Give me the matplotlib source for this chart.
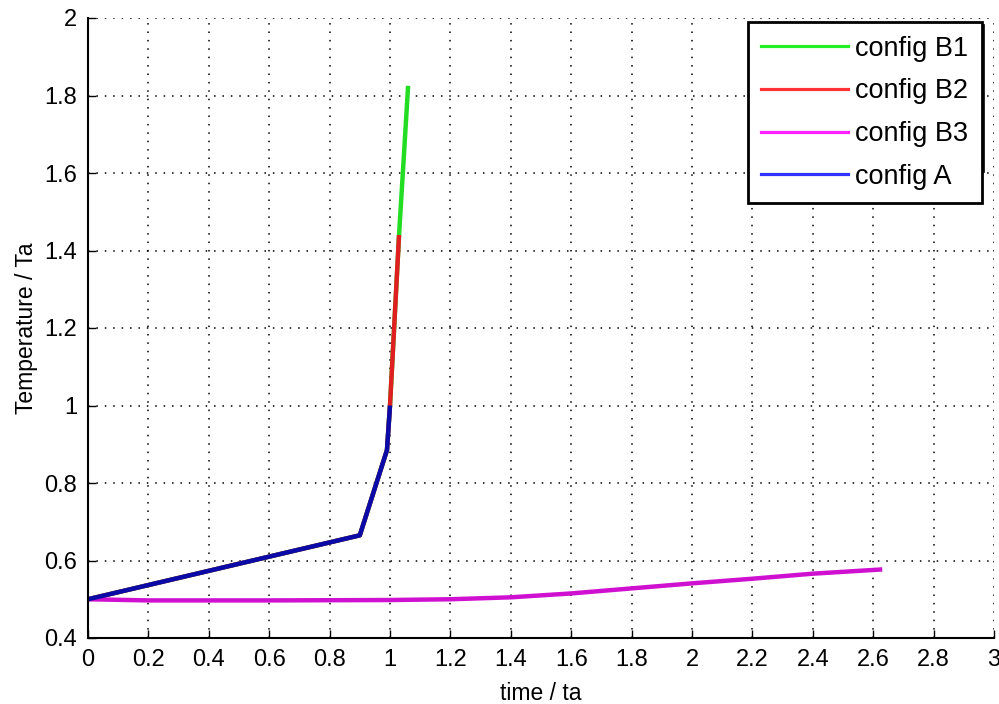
import matplotlib
matplotlib.use("Agg")
import matplotlib.pyplot as plt
from matplotlib.lines import Line2D

# ---- data ----
A_t = [0, 0.9, 0.99, 1.0]
A_T = [0.5, 0.665, 0.885, 1.0]
B2_t = [0, 0.9, 0.99, 1.0, 1.03]
B2_T = [0.5, 0.665, 0.885, 1.0, 1.44]
B1_t = [0, 0.9, 0.99, 1.0, 1.03, 1.06]
B1_T = [0.5, 0.665, 0.885, 1.0, 1.44, 1.825]
B3_t = [0, 0.2, 0.6, 1.0, 1.2, 1.4, 1.6, 1.8, 2.0, 2.2, 2.4, 2.63]
B3_T = [0.5, 0.497, 0.497, 0.498, 0.5, 0.505, 0.515, 0.528, 0.541, 0.553, 0.566, 0.577]
labels = ["config B1", "config B2", "config B3", "config A"]
xticks = [0, 0.2, 0.4, 0.6, 0.8, 1, 1.2, 1.4, 1.6, 1.8, 2, 2.2, 2.4, 2.6, 2.8, 3]
xticklabels = ["0", "0.2", "0.4", "0.6", "0.8", "1", "1.2", "1.4", "1.6", "1.8", "2",
               "2.2", "2.4", "2.6", "2.8", "3"]
yticks = [0.4, 0.6, 0.8, 1.0, 1.2, 1.4, 1.6, 1.8, 2.0]
yticklabels = ["0.4", "0.6", "0.8", "1", "1.2", "1.4", "1.6", "1.8", "2"]

plt.rcParams['font.family'] = ['Liberation Sans', 'DejaVu Sans']

fig = plt.figure(figsize=(9.99, 7.04), dpi=100)
ax = fig.add_axes([88/999, 66/704, 906/999, 620/704])

lw = 3.2
ax.plot(B1_t, B1_T, color='#22dd22', lw=lw, label=labels[0], solid_capstyle='butt')
ax.plot(B2_t, B2_T, color='#e02020', lw=lw, label=labels[1], solid_capstyle='butt')
ax.plot(B3_t, B3_T, color='#d010d0', lw=lw, label=labels[2], solid_capstyle='butt')
ax.plot(A_t, A_T, color='#0a0aa8', lw=lw, label=labels[3], solid_capstyle='butt')

ax.set_xlim(0, 3)
ax.set_ylim(0.4, 2)
ax.set_xticks(xticks)
ax.set_xticklabels(xticklabels)
ax.set_yticks(yticks)
ax.set_yticklabels(yticklabels)
ax.tick_params(direction='in', length=6, width=1, labelsize=17, colors='black')
ax.tick_params(axis='x', pad=8)
ax.tick_params(axis='y', pad=8)
ax.grid(True, color='black', linestyle=(0, (1, 4.5)), linewidth=1.1)
for s in ['top', 'right']:
    ax.spines[s].set_visible(False)
for s in ['left', 'bottom']:
    ax.spines[s].set_linewidth(1.5)
    ax.spines[s].set_color('black')

ax.set_xlabel("time / ta", fontsize=16.5, labelpad=8)
ax.set_ylabel("Temperature / Ta", fontsize=16.5, labelpad=4)

leg_handles = [Line2D([0], [0], color=c, lw=2.3) for c in ['#22ee22', '#ff3333', '#ff22ff', '#3333ff']]
leg = ax.legend(leg_handles, labels, loc='upper right', bbox_to_anchor=(982/999, 1 - 22/704),
                bbox_transform=fig.transFigure, fontsize=19.5, frameon=True, fancybox=False,
                edgecolor='black', framealpha=1, borderpad=0.5, labelspacing=0.62,
                handlelength=3.2, handletextpad=0.28, borderaxespad=0)
leg.get_frame().set_linewidth(2)

fig.add_artist(Line2D([984/999, 984/999], [1 - 25/704, 1 - 172/704], color='black', lw=1.2,
                      transform=fig.transFigure))

fig.savefig("out.png", dpi=100)
